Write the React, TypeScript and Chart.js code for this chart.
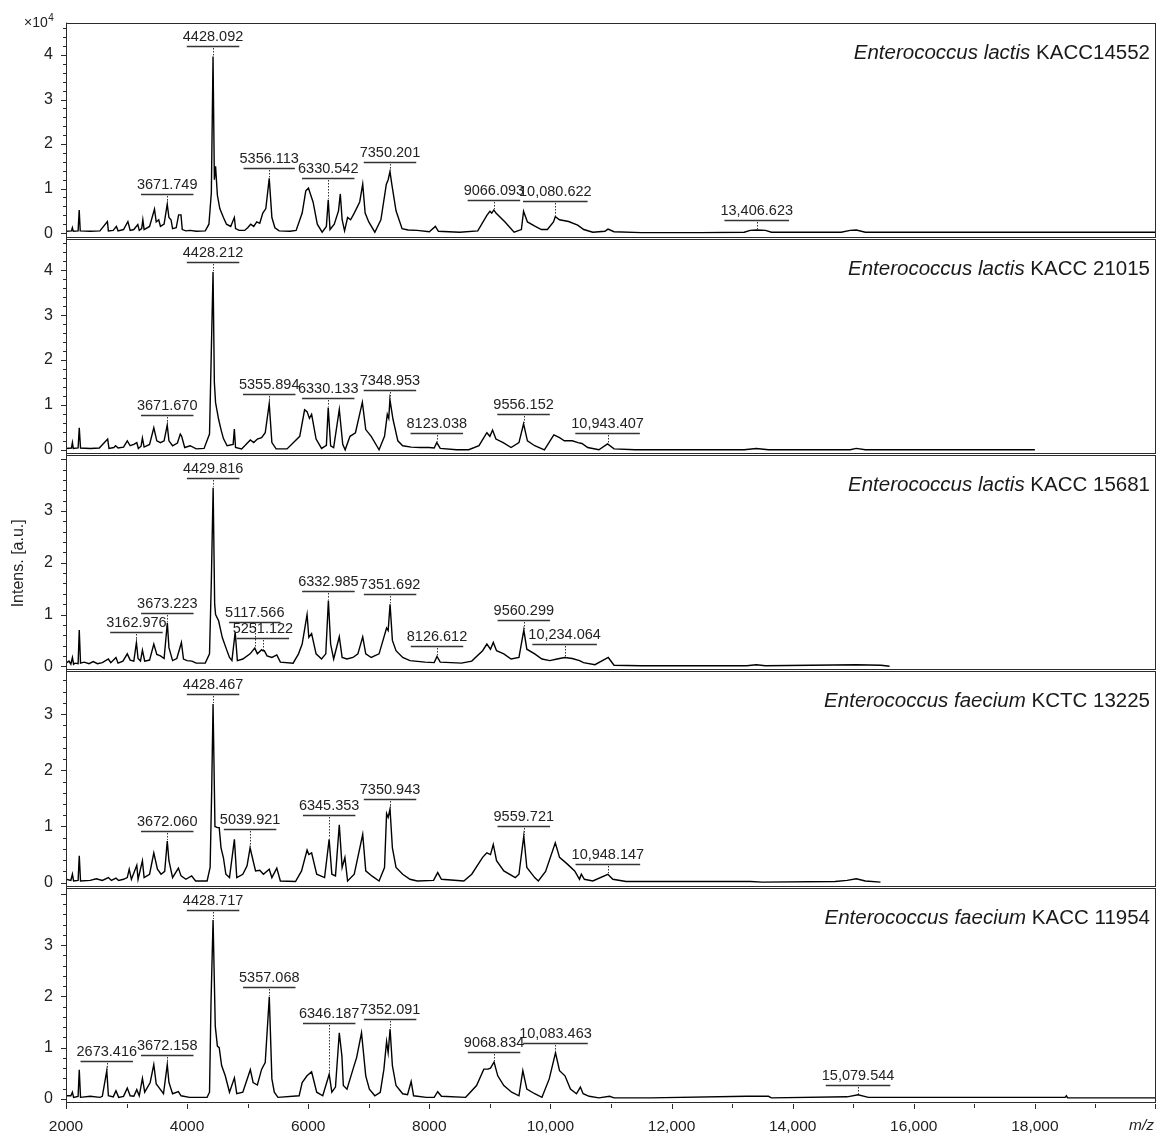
import React, { useEffect, useRef } from 'react';
import { Chart, registerables } from 'chart.js';

Chart.register(...registerables);

const W = 1169;
const H = 1133;
const FONT = "'Liberation Sans', Arial, Helvetica, sans-serif";

// ---------- panel texts ----------
const speciesItalic = [
  'Enterococcus lactis',
  'Enterococcus lactis',
  'Enterococcus lactis',
  'Enterococcus faecium',
  'Enterococcus faecium',
];
const strainNames = ['KACC14552', 'KACC 21015', 'KACC 15681', 'KCTC 13225', 'KACC 11954'];

// intensity axis ranges (x10^4 a.u.)
const panelMin = [-0.13, -0.12, -0.1, -0.09, -0.1];
const panelMax = [4.73, 4.7, 4.08, 3.76, 4.12];

// m/z axis
const xMin = 2000;
const xMax = 20000;
const xStep = 2000;
const yTitle = 'Intens. [a.u.]';
const xTitle = 'm/z';

// ---------- spectra: [m/z, intensity x10^4] ----------
const spectrum1: [number, number][] = [
  [2000, 0.04], [2090, 0.05], [2105, 0.12], [2120, 0.04], [2200, 0.05], [2218, 0.52], [2235, 0.05],
  [2400, 0.04], [2560, 0.05], [2684, 0.26], [2700, 0.05], [2780, 0.06], [2832, 0.15], [2860, 0.05],
  [2950, 0.08], [3022, 0.26], [3060, 0.06], [3120, 0.08], [3186, 0.19], [3210, 0.06], [3250, 0.1],
  [3269, 0.3], [3290, 0.08], [3380, 0.15], [3461, 0.54], [3490, 0.25], [3531, 0.3], [3560, 0.15],
  [3620, 0.2], [3671.749, 0.65], [3700, 0.35], [3734, 0.3], [3760, 0.1], [3820, 0.12], [3860, 0.41],
  [3899, 0.41], [3920, 0.08], [3980, 0.05], [4050, 0.06], [4150, 0.04], [4300, 0.05], [4360, 0.2],
  [4400, 0.9], [4428.092, 3.97], [4450, 1.2], [4470, 1.5], [4500, 0.85], [4540, 0.55], [4600, 0.35],
  [4650, 0.2], [4720, 0.15], [4780, 0.35], [4800, 0.1], [4860, 0.06], [4950, 0.06], [5000, 0.12],
  [5050, 0.2], [5100, 0.15], [5150, 0.25], [5200, 0.22], [5250, 0.45], [5300, 0.55], [5356.113, 1.23],
  [5400, 0.35], [5450, 0.12], [5520, 0.05], [5700, 0.04], [5800, 0.06], [5900, 0.45], [5960, 0.95],
  [6004, 1.01], [6040, 0.86], [6080, 0.7], [6150, 0.2], [6230, 0.02], [6300, 0.15], [6330.542, 0.75],
  [6360, 0.08], [6430, 0.2], [6500, 0.5], [6530, 0.88], [6560, 0.3], [6600, 0.05], [6650, 0.35],
  [6700, 0.3], [6760, 0.45], [6850, 0.7], [6900, 1.1], [6940, 0.45], [7000, 0.25], [7100, 0.02],
  [7200, 0.3], [7290, 1.1], [7320, 1.2], [7350.201, 1.38], [7380, 1.1], [7450, 0.5], [7550, 0.1],
  [7650, 0.07], [7800, 0.06], [8000, 0.03], [8100, 0.15], [8150, 0.04], [8500, 0.02], [8800, 0.05],
  [8950, 0.4], [9000, 0.49], [9030, 0.45], [9066.093, 0.52], [9100, 0.45], [9250, 0.25], [9400, 0.02],
  [9520, 0.08], [9556, 0.49], [9620, 0.25], [9750, 0.15], [9850, 0.08], [9950, 0.08], [10050, 0.25],
  [10080.622, 0.37], [10150, 0.3], [10300, 0.26], [10450, 0.18], [10550, 0.08], [10700, 0.02],
  [10900, 0.04], [10950, 0.09], [11050, 0.03], [11500, 0.01], [12500, 0.01], [13200, 0.02],
  [13300, 0.06], [13406.623, 0.07], [13550, 0.06], [13650, 0.02], [14800, 0.02], [14950, 0.06],
  [15050, 0.07], [15200, 0.02], [20000, 0.02],
];

const spectrum2: [number, number][] = [
  [2000, 0.03], [2090, 0.04], [2106, 0.16], [2120, 0.03], [2200, 0.04], [2219, 0.49], [2240, 0.04],
  [2400, 0.03], [2550, 0.04], [2688, 0.24], [2710, 0.03], [2790, 0.05], [2820, 0.09], [2860, 0.04],
  [2950, 0.06], [3012, 0.2], [3060, 0.09], [3120, 0.12], [3169, 0.16], [3195, 0.03], [3240, 0.08],
  [3262, 0.26], [3290, 0.06], [3380, 0.12], [3450, 0.49], [3500, 0.2], [3560, 0.16], [3620, 0.2],
  [3671.67, 0.55], [3700, 0.2], [3760, 0.09], [3840, 0.15], [3887, 0.35], [3910, 0.3], [3960, 0.05],
  [4050, 0.09], [4150, 0.02], [4280, 0.03], [4370, 0.35], [4428.212, 3.96], [4450, 1.5], [4470, 1.05],
  [4520, 0.68], [4560, 0.45], [4600, 0.25], [4660, 0.09], [4760, 0.12], [4780, 0.46], [4800, 0.05],
  [4900, 0.02], [4960, 0.1], [5044, 0.22], [5100, 0.16], [5160, 0.24], [5230, 0.27], [5290, 0.38],
  [5355.894, 1.03], [5400, 0.16], [5470, 0.02], [5650, 0.02], [5860, 0.3], [5940, 0.89], [5981, 0.85],
  [6020, 0.7], [6056, 0.79], [6130, 0.24], [6220, 0.03], [6300, 0.1], [6330.133, 0.94], [6370, 0.09],
  [6420, 0.05], [6513, 0.9], [6570, 0.12], [6610, 0.0], [6690, 0.3], [6780, 0.38], [6894, 1.06],
  [6950, 0.45], [7040, 0.3], [7170, 0.0], [7260, 0.3], [7306, 0.79], [7330, 0.7], [7348.953, 1.12],
  [7400, 0.68], [7480, 0.2], [7560, 0.09], [7700, 0.06], [7850, 0.05], [8000, 0.05], [8080, 0.04],
  [8123.038, 0.16], [8180, 0.03], [8450, 0.0], [8650, 0.0], [8820, 0.09], [8950, 0.38], [9000, 0.3],
  [9044, 0.44], [9100, 0.24], [9220, 0.16], [9350, 0.05], [9480, 0.16], [9556.152, 0.58], [9620, 0.2],
  [9740, 0.09], [9900, 0.0], [10056, 0.33], [10150, 0.27], [10230, 0.2], [10360, 0.2], [10455, 0.16],
  [10520, 0.14], [10615, 0.05], [10800, 0.0], [10943.407, 0.13], [11050, 0.02], [11400, 0.0],
  [13200, 0.0], [13400, 0.03], [13600, 0.0], [14950, 0.0], [15050, 0.03], [15200, 0.0], [18000, 0.0],
];

const spectrum3: [number, number][] = [
  [2000, 0.06], [2050, 0.1], [2080, 0.04], [2106, 0.17], [2125, 0.04], [2150, 0.06], [2200, 0.05],
  [2219, 0.7], [2240, 0.06], [2300, 0.08], [2380, 0.05], [2450, 0.09], [2520, 0.05], [2600, 0.07],
  [2700, 0.14], [2740, 0.07], [2825, 0.17], [2860, 0.06], [2940, 0.1], [3012, 0.24], [3060, 0.12],
  [3120, 0.1], [3162.976, 0.46], [3190, 0.15], [3230, 0.1], [3262, 0.31], [3300, 0.1], [3380, 0.12],
  [3450, 0.43], [3500, 0.23], [3560, 0.2], [3620, 0.15], [3673.223, 0.84], [3700, 0.36], [3760, 0.11],
  [3830, 0.15], [3906, 0.46], [3940, 0.14], [4000, 0.11], [4080, 0.1], [4150, 0.06], [4300, 0.06],
  [4370, 0.24], [4400, 1.64], [4429.816, 3.45], [4455, 1.2], [4470, 1.0], [4520, 0.88], [4580, 0.56],
  [4640, 0.36], [4700, 0.17], [4740, 0.11], [4794, 0.66], [4830, 0.11], [4920, 0.14], [5040, 0.24],
  [5117.566, 0.35], [5160, 0.24], [5231, 0.32], [5251.122, 0.3], [5275, 0.3], [5320, 0.2], [5400, 0.17],
  [5481, 0.22], [5540, 0.08], [5750, 0.06], [5840, 0.24], [5900, 0.43], [5981, 1.0], [6010, 0.56],
  [6056, 0.63], [6130, 0.24], [6220, 0.14], [6290, 0.24], [6332.985, 1.27], [6370, 0.43], [6420, 0.14],
  [6513, 0.57], [6560, 0.17], [6640, 0.14], [6740, 0.17], [6820, 0.24], [6900, 0.57], [6950, 0.24],
  [7040, 0.17], [7170, 0.24], [7294, 0.74], [7320, 0.69], [7351.692, 1.2], [7390, 0.5], [7450, 0.3],
  [7560, 0.17], [7680, 0.11], [7930, 0.08], [8080, 0.07], [8126.612, 0.19], [8180, 0.08], [8530, 0.06],
  [8700, 0.1], [8880, 0.3], [8950, 0.43], [9010, 0.33], [9056, 0.46], [9110, 0.3], [9230, 0.24],
  [9350, 0.14], [9480, 0.17], [9560.299, 0.7], [9610, 0.33], [9740, 0.24], [9860, 0.14], [9990, 0.11],
  [10110, 0.14], [10234.064, 0.17], [10360, 0.15], [10480, 0.11], [10545, 0.07], [10735, 0.03],
  [10955, 0.17], [11050, 0.02], [11490, 0.01], [13240, 0.01], [13400, 0.03], [13550, 0.01],
  [15050, 0.03], [15460, 0.02], [15600, 0.0],
];

const spectrum4: [number, number][] = [
  [2000, 0.06], [2080, 0.04], [2106, 0.15], [2125, 0.03], [2200, 0.04], [2219, 0.48], [2240, 0.03],
  [2400, 0.04], [2500, 0.07], [2600, 0.04], [2700, 0.09], [2750, 0.04], [2825, 0.08], [2870, 0.04],
  [2950, 0.06], [3012, 0.09], [3044, 0.24], [3080, 0.06], [3169, 0.31], [3190, 0.06], [3262, 0.39],
  [3290, 0.09], [3380, 0.15], [3450, 0.53], [3510, 0.24], [3570, 0.15], [3630, 0.2], [3672.06, 0.74],
  [3700, 0.39], [3760, 0.09], [3856, 0.26], [3900, 0.12], [3980, 0.06], [4075, 0.12], [4140, 0.03],
  [4330, 0.03], [4380, 0.27], [4405, 1.6], [4428.467, 3.18], [4460, 1.0], [4500, 0.98], [4530, 0.98],
  [4560, 0.62], [4600, 0.44], [4640, 0.15], [4700, 0.09], [4781, 0.77], [4820, 0.09], [4920, 0.15],
  [4990, 0.3], [5039.921, 0.62], [5090, 0.39], [5130, 0.21], [5200, 0.22], [5260, 0.15], [5356, 0.24],
  [5400, 0.09], [5481, 0.26], [5540, 0.03], [5790, 0.02], [5890, 0.21], [5981, 0.58], [6010, 0.5],
  [6056, 0.53], [6140, 0.15], [6270, 0.09], [6345.353, 0.77], [6390, 0.15], [6450, 0.12], [6513, 1.03],
  [6560, 0.27], [6606, 0.45], [6650, 0.03], [6760, 0.15], [6900, 0.86], [6950, 0.21], [7050, 0.12],
  [7170, 0.03], [7260, 0.27], [7294, 1.23], [7320, 1.16], [7350.943, 1.31], [7390, 0.62], [7450, 0.27],
  [7560, 0.15], [7680, 0.06], [7800, 0.03], [8070, 0.04], [8138, 0.18], [8200, 0.06], [8570, 0.03],
  [8700, 0.15], [8880, 0.45], [8950, 0.53], [9010, 0.5], [9056, 0.68], [9110, 0.39], [9230, 0.21],
  [9420, 0.09], [9480, 0.15], [9559.721, 0.83], [9610, 0.27], [9740, 0.09], [9800, 0.03], [9920, 0.2],
  [10080, 0.71], [10150, 0.45], [10280, 0.33], [10400, 0.21], [10480, 0.06], [10510, 0.15],
  [10560, 0.06], [10700, 0.03], [10948.147, 0.15], [11030, 0.06], [11250, 0.02], [11600, 0.02],
  [13300, 0.02], [13500, 0.01], [14700, 0.02], [14900, 0.04], [15050, 0.07], [15200, 0.03], [15450, 0.01],
];

const spectrum5: [number, number][] = [
  [2000, 0.06], [2080, 0.06], [2106, 0.13], [2125, 0.03], [2200, 0.05], [2219, 0.57], [2240, 0.03],
  [2400, 0.05], [2560, 0.03], [2600, 0.05], [2673.416, 0.55], [2700, 0.06], [2780, 0.04], [2825, 0.16],
  [2870, 0.03], [2950, 0.05], [3012, 0.21], [3060, 0.06], [3120, 0.05], [3169, 0.18], [3210, 0.06],
  [3262, 0.4], [3300, 0.13], [3390, 0.32], [3450, 0.67], [3490, 0.29], [3530, 0.23], [3610, 0.1],
  [3672.158, 0.67], [3700, 0.32], [3760, 0.1], [3856, 0.14], [3900, 0.06], [4040, 0.03], [4330, 0.03],
  [4370, 0.13], [4395, 1.9], [4428.717, 3.49], [4465, 1.42], [4500, 1.03], [4530, 1.0], [4570, 0.65],
  [4630, 0.45], [4700, 0.13], [4781, 0.41], [4820, 0.1], [4920, 0.13], [5044, 0.57], [5090, 0.32],
  [5160, 0.27], [5231, 0.58], [5290, 0.71], [5357.068, 1.99], [5400, 0.39], [5440, 0.13], [5500, 0.03],
  [5850, 0.06], [5900, 0.32], [5980, 0.45], [6056, 0.53], [6140, 0.13], [6240, 0.06], [6346.187, 0.48],
  [6390, 0.13], [6450, 0.23], [6513, 1.29], [6556, 0.84], [6580, 0.26], [6640, 0.19], [6740, 0.58],
  [6800, 0.81], [6880, 1.29], [6950, 0.45], [7010, 0.19], [7100, 0.06], [7190, 0.13], [7250, 0.58],
  [7294, 1.12], [7320, 0.9], [7352.091, 1.36], [7390, 0.65], [7450, 0.26], [7560, 0.1], [7640, 0.08],
  [7700, 0.34], [7740, 0.06], [7950, 0.03], [8080, 0.03], [8138, 0.14], [8200, 0.05], [8600, 0.03],
  [8780, 0.26], [8900, 0.58], [8969, 0.58], [9010, 0.6], [9068.834, 0.72], [9130, 0.45], [9230, 0.26],
  [9360, 0.13], [9480, 0.06], [9544, 0.55], [9610, 0.19], [9740, 0.1], [9860, 0.03], [9980, 0.39],
  [10083.463, 0.9], [10150, 0.55], [10240, 0.45], [10330, 0.19], [10430, 0.1], [10494, 0.23],
  [10540, 0.1], [10640, 0.05], [10800, 0.02], [10977, 0.05], [11050, 0.02], [11650, 0.02],
  [13240, 0.05], [13600, 0.05], [13650, 0.02], [14900, 0.04], [15079.544, 0.08], [15250, 0.03],
  [18500, 0.03], [18520, 0.06], [18540, 0.02], [20000, 0.02],
];

// ---------- peak labels ----------
const peakLabels1 = ['3671.749', '4428.092', '5356.113', '6330.542', '7350.201', '9066.093', '10,080.622', '13,406.623'];
const peakLabels2 = ['3671.670', '4428.212', '5355.894', '6330.133', '7348.953', '8123.038', '9556.152', '10,943.407'];
const peakLabels3 = ['3162.976', '3673.223', '4429.816', '5117.566', '5251.122', '6332.985', '7351.692', '8126.612', '9560.299', '10,234.064'];
const peakLabels4 = ['3672.060', '4428.467', '5039.921', '6345.353', '7350.943', '9559.721', '10,948.147'];
const peakLabels5 = ['2673.416', '3672.158', '4428.717', '5357.068', '6346.187', '7352.091', '9068.834', '10,083.463', '15,079.544'];

const spectra = [spectrum1, spectrum2, spectrum3, spectrum4, spectrum5];
const peakLabels = [peakLabels1, peakLabels2, peakLabels3, peakLabels4, peakLabels5];
const panelIds = ['y1', 'y2', 'y3', 'y4', 'y5'];

const fmtX = (v: number) => (v >= xMax ? '' : v >= 10000 ? v.toLocaleString('en-US') : String(v));

const decorPlugin = {
  id: 'decor',
  afterDraw(chart: any) {
    const ctx: CanvasRenderingContext2D = chart.ctx;
    const area = chart.chartArea;
    const xs = chart.scales.x;
    ctx.save();
    ctx.strokeStyle = '#2b2b2b';
    ctx.fillStyle = '#222';
    ctx.lineWidth = 1;

    // panel boxes + y ticks
    panelIds.forEach((id, i) => {
      const ys = chart.scales[id];
      const t = Math.round(ys.top);
      const b = Math.round(ys.bottom);
      ctx.strokeRect(area.left + 0.5, t + 0.5, Math.round(area.right - area.left) - 1, b - t - 2);
      const start = Math.ceil(panelMin[i] / 0.2) * 0.2;
      for (let v = start; v <= panelMax[i] + 1e-9; v += 0.2) {
        const py = Math.round(ys.getPixelForValue(v)) + 0.5;
        if (py < t + 2 || py > b - 2) continue;
        const major = Math.abs(v - Math.round(v)) < 1e-6;
        const len = major ? 5 : 3;
        ctx.beginPath();
        ctx.moveTo(area.left - len, py);
        ctx.lineTo(area.left, py);
        ctx.stroke();
      }
    });
    // left axis line
    ctx.beginPath();
    ctx.moveTo(Math.round(area.left) + 0.5, area.top);
    ctx.lineTo(Math.round(area.left) + 0.5, area.bottom);
    ctx.stroke();
    // x ticks
    for (let v = xMin; v <= xMax; v += xStep / 2) {
      const px = Math.round(xs.getPixelForValue(v)) + 0.5;
      const len = v % xStep === 0 ? 5 : 4;
      ctx.beginPath();
      ctx.moveTo(Math.min(px, area.right - 0.5), area.bottom);
      ctx.lineTo(Math.min(px, area.right - 0.5), area.bottom + len);
      ctx.stroke();
    }

    // peak labels
    ctx.font = `14.5px ${FONT}`;
    ctx.textAlign = 'center';
    ctx.textBaseline = 'alphabetic';
    spectra.forEach((spec, i) => {
      const ys = chart.scales[panelIds[i]];
      peakLabels[i].forEach((label) => {
        const mz = parseFloat(label.replace(/,/g, ''));
        const cx = xs.getPixelForValue(mz);
        const tw = ctx.measureText(label).width;
        const half = tw / 2 - 4;
        const lo = xs.getValueForPixel(cx - half);
        const hi = xs.getValueForPixel(cx + half);
        let apex = 0;
        let best = Infinity;
        let peakMax = 0;
        for (const [x, y] of spec) {
          if (x >= lo && x <= hi && y > peakMax) peakMax = y;
          const d = Math.abs(x - mz);
          if (d < best) {
            best = d;
            apex = y;
          }
        }
        const lineY = Math.round(ys.getPixelForValue(peakMax) - 10) + 0.5;
        const apexY = ys.getPixelForValue(apex);
        ctx.lineWidth = 1.3;
        ctx.strokeStyle = '#333';
        ctx.beginPath();
        ctx.moveTo(cx - half, lineY);
        ctx.lineTo(cx + half, lineY);
        ctx.stroke();
        ctx.lineWidth = 1;
        ctx.setLineDash([1.5, 1.5]);
        const dx = Math.round(cx) + 0.5;
        ctx.beginPath();
        ctx.moveTo(dx, lineY + 1.5);
        ctx.lineTo(dx, apexY - 1);
        ctx.stroke();
        ctx.setLineDash([]);
        ctx.fillText(label, cx, lineY - 6);
      });
    });

    // species names
    ctx.textAlign = 'right';
    ctx.fillStyle = '#1a1a1a';
    panelIds.forEach((id, i) => {
      const ys = chart.scales[id];
      const baseY = ys.top + 36;
      const right = 1150;
      ctx.font = `20.5px ${FONT}`;
      const sw = ctx.measureText(strainNames[i]).width;
      const space = ctx.measureText(' ').width;
      ctx.fillText(strainNames[i], right, baseY);
      ctx.font = `italic 20.5px ${FONT}`;
      ctx.fillText(speciesItalic[i], right - sw - space, baseY);
    });

    // y title
    ctx.fillStyle = '#222';
    ctx.save();
    ctx.translate(19, (area.top + area.bottom) / 2);
    ctx.rotate(-Math.PI / 2);
    ctx.textAlign = 'center';
    ctx.textBaseline = 'middle';
    ctx.font = `16px ${FONT}`;
    ctx.fillText(yTitle, 0, 0);
    ctx.restore();

    // x10^4
    ctx.textAlign = 'left';
    ctx.textBaseline = 'alphabetic';
    ctx.font = `14px ${FONT}`;
    ctx.fillText('\u00d710', 24, 27);
    const w10 = ctx.measureText('\u00d710').width;
    ctx.font = `10px ${FONT}`;
    ctx.fillText('4', 24 + w10 + 0.5, 21);

    // m/z
    ctx.textAlign = 'right';
    ctx.textBaseline = 'middle';
    ctx.font = `italic 15.5px ${FONT}`;
    ctx.fillText(xTitle, area.right - 2, area.bottom + 22);

    ctx.restore();
  },
};

export default function App() {
  const canvasRef = useRef<HTMLCanvasElement | null>(null);

  useEffect(() => {
    if (!canvasRef.current) return;
    const scales: any = {
      x: {
        type: 'linear',
        position: 'bottom',
        min: xMin,
        max: xMax,
        grid: { display: false, drawTicks: false },
        border: { display: false },
        ticks: {
          stepSize: xStep,
          autoSkip: false,
          maxRotation: 0,
          padding: 13,
          color: '#222',
          font: { family: FONT, size: 15.5 },
          callback: (v: any) => fmtX(Number(v)),
        },
        afterFit: (s: any) => {
          s.height = 29;
        },
      },
    };
    // bottom panel first so the stack places panel 1 on top
    for (let i = panelIds.length - 1; i >= 0; i--) {
      const mx = panelMax[i];
      scales[panelIds[i]] = {
        type: 'linear',
        position: 'left',
        stack: 'spectra',
        stackWeight: 1,
        weight: panelIds.length - i,
        min: panelMin[i],
        max: mx,
        grid: { display: false, drawTicks: false },
        border: { display: false },
        ticks: {
          stepSize: 1,
          includeBounds: false,
          autoSkip: false,
          padding: 13,
          color: '#222',
          font: { family: FONT, size: 16 },
          callback: (v: any) => {
            const n = Number(v);
            return Number.isInteger(n) && n <= mx - 0.3 ? String(n) : '';
          },
        },
        afterFit: (s: any) => {
          s.width = 66;
        },
      };
    }

    const chart = new Chart(canvasRef.current, {
      type: 'line',
      data: {
        datasets: spectra.map((s, i) => ({
          label: strainNames[i],
          data: s.map(([x, y]) => ({ x, y })),
          xAxisID: 'x',
          yAxisID: panelIds[i],
          borderColor: '#000',
          borderWidth: 1.4,
          pointRadius: 0,
          fill: false,
          tension: 0,
        })),
      },
      options: {
        responsive: false,
        animation: false,
        devicePixelRatio: 1,
        layout: { padding: { left: 0, top: 20, right: 2, bottom: 0 } },
        plugins: { legend: { display: false }, tooltip: { enabled: false } },
        events: [],
        scales,
      } as any,
      plugins: [decorPlugin],
    });
    return () => chart.destroy();
  }, []);

  return (
    <div style={{ position: 'absolute', left: 0, top: 0, width: W, height: H, background: '#fff' }}>
      <canvas ref={canvasRef} width={W} height={H} style={{ display: 'block' }} />
    </div>
  );
}
